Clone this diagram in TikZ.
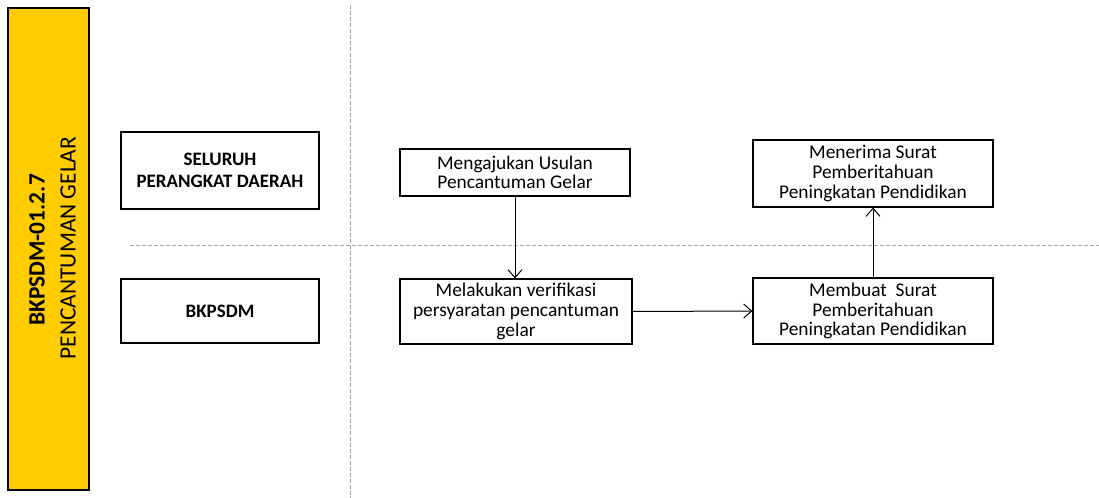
\documentclass[tikz,border=0pt]{standalone}
\usepackage{fontspec}
\setmainfont{Carlito}
\usepackage{tikz}
\usetikzlibrary{arrows.meta}

\definecolor{laneyellow}{HTML}{FFCC00}
\definecolor{lanegray}{HTML}{A6A6A6}

\tikzset{
	stepbox/.style={draw, line width=0.6pt, align=center, inner sep=0pt, font=\fontsize{9.7}{9.8}\selectfont},
	actorbox/.style={stepbox, font=\fontsize{9.5}{11}\selectfont\bfseries},
	flow/.style={-{Straight Barb[length=4pt,width=7pt]}, line width=0.5pt},
	lane/.style={lanegray, line width=0.5pt, dash pattern=on 2pt off 1pt}
}

\begin{document}
\begin{tikzpicture}[x=0.5pt, y=-0.5pt]

\useasboundingbox (0,0) rectangle (1099,498);

\node[draw, line width=0.6pt, fill=laneyellow, minimum width=40.5pt, minimum height=241pt, inner sep=0pt] (title) at (48.5,249) {};
\node[rotate=90, font=\fontsize{11.7}{12}\selectfont\bfseries] (code) at (37,250) {BKPSDM-01.2.7};
\node[rotate=90, font=\fontsize{11.7}{12}\selectfont] (name) at (68,248) {PENCANTUMAN GELAR};

\draw[lane] (350,5) -- (350,498);
\draw[lane] (130,245) -- (1099,245);

\node[actorbox, minimum width=99pt, minimum height=38.5pt] (seluruh) at (220,170.5) {SELURUH\\PERANGKAT DAERAH};
\node[actorbox, minimum width=99pt, minimum height=32pt] (bkpsdm) at (220,311) {BKPSDM};

\node[stepbox, minimum width=115pt, minimum height=23.5pt] (ajukan) at (515,172.5) {Mengajukan Usulan\\Pencantuman Gelar};
\node[stepbox, minimum width=116pt, minimum height=32.5pt] (verif) at (516,311.5) {Melakukan verifikasi\\persyaratan pencantuman\\gelar};
\node[stepbox, minimum width=120pt, minimum height=33.5pt] (terima) at (873,173.5) {Menerima Surat\\Pemberitahuan\\Peningkatan Pendidikan};
\node[stepbox, minimum width=120pt, minimum height=33pt] (buat) at (873,311) {Membuat~ Surat\\Pemberitahuan\\Peningkatan Pendidikan};

\draw[flow] (ajukan.south) -- (ajukan.south |- verif.north);
\draw[flow] (verif.east) -- (buat.west);
\draw[flow] (buat.north) -- (terima.south);

\end{tikzpicture}
\end{document}
